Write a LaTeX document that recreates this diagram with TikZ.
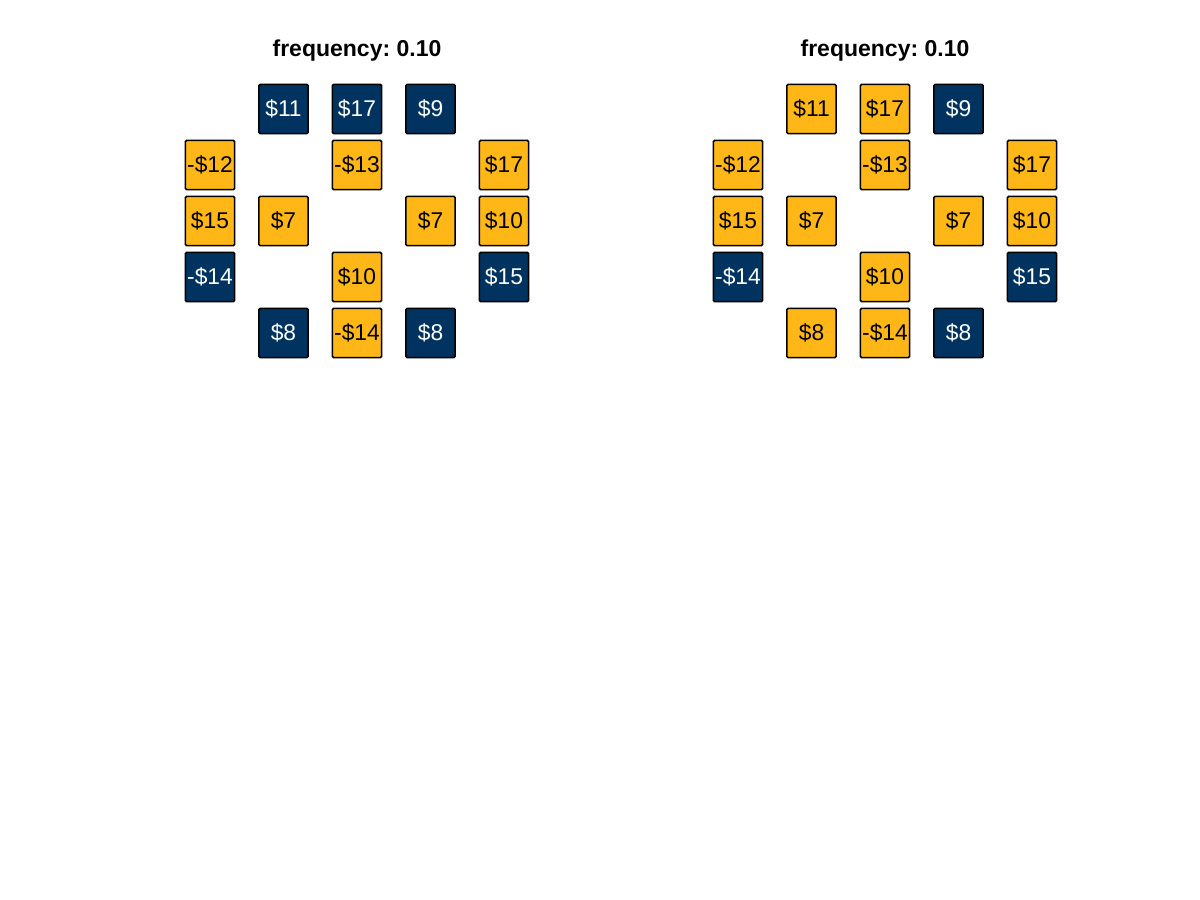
\documentclass[tikz,border=0pt]{standalone}
\usepackage{fontspec}
\setmainfont{Liberation Sans}
\usetikzlibrary{positioning}
\definecolor{navy}{RGB}{0,51,96}
\definecolor{gold}{RGB}{254,183,22}
\frenchspacing

\begin{document}
\begin{tikzpicture}[x=0.5pt, y=-0.5pt,
    every node/.style={font=\fontsize{11.4}{13}\selectfont},
    cell/.style={rectangle, draw=black, line width=0.8pt, rounded corners=0.6pt,
                 minimum size=24.6pt, inner sep=0pt},
    dk/.style={cell, fill=navy, text=white},
    lt/.style={cell, fill=gold, text=black},
    ttl/.style={font=\fontsize{11.5}{14}\selectfont\bfseries},
  ]
  \useasboundingbox[fill=white] (0,0) rectangle (1200,900);
  % left panel
  \node[ttl] (ttlL) at (357,51) {frequency: 0.10};
  \node[dk] (L12) at (283.5,109) {\$11};
  \node[dk] (L13) at (357,109) {\$17};
  \node[dk] (L14) at (430.5,109) {\$9};
  \node[lt] (L21) at (210,165) {-\$12};
  \node[lt] (L23) at (357,165) {-\$13};
  \node[lt] (L25) at (504,165) {\$17};
  \node[lt] (L31) at (210,221) {\$15};
  \node[lt] (L32) at (283.5,221) {\$7};
  \node[lt] (L34) at (430.5,221) {\$7};
  \node[lt] (L35) at (504,221) {\$10};
  \node[dk] (L41) at (210,277) {-\$14};
  \node[lt] (L43) at (357,277) {\$10};
  \node[dk] (L45) at (504,277) {\$15};
  \node[dk] (L52) at (283.5,333) {\$8};
  \node[lt] (L53) at (357,333) {-\$14};
  \node[dk] (L54) at (430.5,333) {\$8};
  % right panel
  \node[ttl] (ttlR) at (885,51) {frequency: 0.10};
  \node[lt] (R12) at (811.5,109) {\$11};
  \node[lt] (R13) at (885,109) {\$17};
  \node[dk] (R14) at (958.5,109) {\$9};
  \node[lt] (R21) at (738,165) {-\$12};
  \node[lt] (R23) at (885,165) {-\$13};
  \node[lt] (R25) at (1032,165) {\$17};
  \node[lt] (R31) at (738,221) {\$15};
  \node[lt] (R32) at (811.5,221) {\$7};
  \node[lt] (R34) at (958.5,221) {\$7};
  \node[lt] (R35) at (1032,221) {\$10};
  \node[dk] (R41) at (738,277) {-\$14};
  \node[lt] (R43) at (885,277) {\$10};
  \node[dk] (R45) at (1032,277) {\$15};
  \node[lt] (R52) at (811.5,333) {\$8};
  \node[lt] (R53) at (885,333) {-\$14};
  \node[dk] (R54) at (958.5,333) {\$8};
\end{tikzpicture}
\end{document}
